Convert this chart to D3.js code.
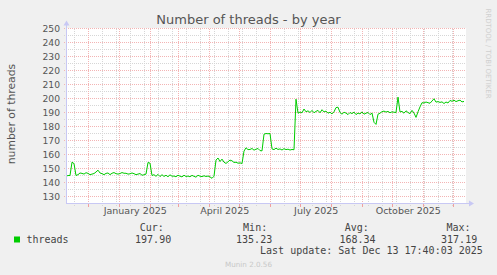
<!DOCTYPE html>
<html>
<head>
<meta charset="utf-8">
<script src="https://cdn.jsdelivr.net/npm/d3@7"></script>
<style>
  body { margin: 0; background: #f0f0f0; }
  svg { display: block; }
</style>
</head>
<body>
<script>
// time window shown (400 days ending at last update)
var startDate = new Date(Date.UTC(2024, 10, 8, 17, 40, 3)),
    endDate = new Date(Date.UTC(2025, 11, 13, 17, 40, 3));

// one reading every 2 days, starting at startDate
var stepDays = 2;
var threads = [
  144.5, 145, 145, 154.5, 153.5, 145, 145.6, 146.8, 146.5, 146,
  147, 146.5, 145.6, 146, 146.4, 147.5, 148.8, 146.8, 146.3, 145.6,
  146.5, 146.8, 145.6, 146.6, 147.1, 146.3, 146, 146.4, 147.1, 146.6,
  146.6, 146, 146.2, 146.8, 146.3, 145.6, 146, 146.4, 145.2, 145.5,
  146, 154.3, 153.8, 145, 145.6, 144.4, 145.8, 144.2, 145.6, 144.3,
  145.2, 144.1, 145.5, 144.5, 144.6, 144.1, 145.2, 144.5, 144, 145.2,
  144.3, 144.6, 144.1, 145.1, 144.4, 143.8, 145.2, 144.5, 144.2, 144.8,
  144.3, 144.6, 144, 143, 144.5, 156, 157.5, 155, 156.7, 154.5,
  153.6, 154.8, 156, 155.5, 154.3, 154.5, 153.8, 154, 153.6, 162.4,
  164.8, 163.5, 163.6, 164.3, 163.1, 163.8, 164.3, 162.8, 162.6, 174.5,
  175, 174.8, 175, 164, 163.5, 164.5, 163.6, 164, 163.2, 164.2,
  163.5, 163.8, 163.2, 163.6, 163.4, 199.5, 189.5, 190.3, 189.8, 192.5,
  190.5, 191.2, 190, 191.5, 189.8, 190.8, 191.5, 189.8, 192, 190.4,
  191, 189.5, 190.2, 189, 190.5, 193.5, 193.8, 190, 188.8, 190.2,
  189.6, 188.5, 190, 189.2, 190.3, 188.5, 189.6, 189, 190.4, 188.8,
  189.5, 190, 188.5, 189.6, 183, 181.5, 188.8, 189.5, 190.6, 191,
  190.3, 190.8, 189.8, 190.5, 190.2, 190, 201, 190.4, 190.8, 189.5,
  191.2, 190, 189.2, 191.5, 189.6, 186.5, 190.5, 194, 197, 196.8,
  197.5, 197, 196.6, 198.2, 199.8, 197.4, 197.8, 197.2, 197.6, 196.4,
  197.5, 196.8, 198.6, 198, 198.8, 197.8, 198.4, 198.8, 197.6, 197.9
];

var yLabels = [130, 140, 150, 160, 170, 180, 190, 200, 210, 220, 230, 240, 250];
var statNames = ["Cur:", "Min:", "Avg:", "Max:"];
var statValues = ["197.90", "135.23", "168.34", "317.19"];

var width = 497, height = 275;
var margin = {left: 66, right: 31, top: 28.5, bottom: 71.5};

var svg = d3.select("body").append("svg")
    .attr("width", width)
    .attr("height", height);

var x = d3.scaleUtc()
    .domain([startDate, endDate])
    .range([margin.left, width - margin.right]);

var y = d3.scaleLinear()
    .domain([125, 250])
    .range([height - margin.bottom, margin.top]);

var x0 = x.range()[0], x1 = x.range()[1],
    yb = y(125), yt = y(250);

//Plot background
svg.append("rect")
    .attr("x", x0).attr("y", yt - 0.5)
    .attr("width", x1 - x0).attr("height", yb - yt + 0.5)
    .attr("fill", "#fff");

var grid = svg.append("g").attr("shape-rendering", "crispEdges");
var minorColor = "#d6d6d6", majorColor = "#f3b4b4";

//Horizontal grid (minor every 5, major every 10)
var hMinor = d3.range(135, 250, 10);
grid.selectAll(".hmin").data(hMinor).enter().append("line")
    .attr("x1", x0 - 2).attr("x2", x1)
    .attr("y1", function(d) { return y(d); })
    .attr("y2", function(d) { return y(d); })
    .attr("stroke", minorColor).attr("stroke-dasharray", "1,1");

grid.selectAll(".hmaj").data(yLabels).enter().append("line")
    .attr("x1", x0 - 2).attr("x2", x1)
    .attr("y1", function(d) { return y(d); })
    .attr("y2", function(d) { return y(d); })
    .attr("stroke", majorColor).attr("stroke-dasharray", "1,1");

//Vertical grid: minor every 2 weeks, major at month starts
var vMinor = d3.utcSunday.range(new Date(Date.UTC(2024, 10, 17)), endDate, 2);
var vMajor = d3.utcMonth.range(startDate, endDate);

grid.selectAll(".vmin").data(vMinor).enter().append("line")
    .attr("x1", function(d) { return Math.round(x(d)) + 0.5; })
    .attr("x2", function(d) { return Math.round(x(d)) + 0.5; })
    .attr("y1", yt).attr("y2", yb + 2)
    .attr("stroke", minorColor).attr("stroke-dasharray", "1,1");

grid.selectAll(".vmaj").data(vMajor).enter().append("line")
    .attr("x1", function(d) { return Math.round(x(d)) + 0.5; })
    .attr("x2", function(d) { return Math.round(x(d)) + 0.5; })
    .attr("y1", yt).attr("y2", yb)
    .attr("stroke", majorColor).attr("stroke-dasharray", "1,1");

grid.selectAll(".vtick").data(vMajor).enter().append("line")
    .attr("x1", function(d) { return Math.round(x(d)) + 0.5; })
    .attr("x2", function(d) { return Math.round(x(d)) + 0.5; })
    .attr("y1", yb).attr("y2", yb + 3)
    .attr("stroke", "#f0a0a0");

//Data line
var line = d3.line()
    .x(function(d, i) { return x(d3.utcDay.offset(startDate, i * stepDays)); })
    .y(function(d) { return y(d); });

svg.append("path")
    .datum(threads)
    .attr("fill", "none")
    .attr("stroke", "#00cc00")
    .attr("stroke-width", 1)
    .attr("d", line);

//Axes lines with arrows
var axisColor = "#c8c8f4";
svg.append("line")
    .attr("x1", x0).attr("x2", x1 + 3)
    .attr("y1", yb).attr("y2", yb)
    .attr("stroke", axisColor).attr("shape-rendering", "crispEdges");
svg.append("line")
    .attr("x1", x0 + 0.5).attr("x2", x0 + 0.5)
    .attr("y1", yb).attr("y2", yt - 4)
    .attr("stroke", axisColor).attr("shape-rendering", "crispEdges");
svg.append("path")
    .attr("d", "M" + (x1 + 8) + "," + yb + "L" + (x1 + 3) + "," + (yb - 3) + "L" + (x1 + 3) + "," + (yb + 3) + "Z")
    .attr("fill", axisColor);
svg.append("path")
    .attr("d", "M" + (x0 + 0.5) + "," + (yt - 8) + "L" + (x0 - 2.5) + "," + (yt - 3) + "L" + (x0 + 3.5) + "," + (yt - 3) + "Z")
    .attr("fill", axisColor);

//Y axis labels
var yAxis = svg.append("g")
    .attr("transform", "translate(" + x0 + ",0)")
    .call(d3.axisLeft(y).tickValues(yLabels).tickSize(0).tickPadding(6));
yAxis.select(".domain").remove();
yAxis.selectAll("text")
    .attr("fill", "#555")
    .style("font-family", "DejaVu Sans")
    .style("font-size", "9.2px");

//X axis labels centred on the middle of each quarter's first month
var labelMonths = vMajor.filter(function(d) { return d.getUTCMonth() % 3 === 0; });
var labelDates = labelMonths.map(function(d) {
    return new Date((+d + +d3.utcMonth.offset(d, 1)) / 2);
});
var xAxis = svg.append("g")
    .attr("transform", "translate(0," + yb + ")")
    .call(d3.axisBottom(x).tickValues(labelDates).tickSize(0).tickPadding(4)
        .tickFormat(d3.utcFormat("%B %Y")));
xAxis.select(".domain").remove();
xAxis.selectAll("text")
    .attr("fill", "#555")
    .style("font-family", "DejaVu Sans")
    .style("font-size", "9.5px");

//Title
svg.append("text")
    .attr("x", 248.5).attr("y", 24)
    .attr("text-anchor", "middle")
    .attr("fill", "#555")
    .style("font-family", "DejaVu Sans")
    .style("font-size", "13px")
    .text("Number of threads - by year");

//Y axis title
svg.append("text")
    .attr("transform", "translate(15,114) rotate(-90)")
    .attr("text-anchor", "middle")
    .attr("fill", "#555")
    .style("font-family", "DejaVu Sans")
    .style("font-size", "10.8px")
    .text("number of threads");

//Side credit
svg.append("text")
    .attr("transform", "translate(486,53.5) rotate(90)")
    .attr("text-anchor", "middle")
    .attr("fill", "#cfcfcf")
    .style("font-family", "DejaVu Sans")
    .style("font-size", "7px")
    .text("RRDTOOL / TOBI OETIKER");

//Legend
var mono = {family: "DejaVu Sans Mono", size: "10px", color: "#444"};
svg.append("rect")
    .attr("x", 14).attr("y", 236.5)
    .attr("width", 6).attr("height", 6)
    .attr("fill", "#00cc00");
svg.append("text")
    .attr("x", 26.5).attr("y", 242.7)
    .attr("fill", mono.color)
    .style("font-family", mono.family).style("font-size", mono.size)
    .text("threads");

var nameEnds = [163.8, 267.2, 368.8, 470.5];
var valueEnds = [171.2, 272.2, 375.5, 477.2];

svg.selectAll(".statname").data(statNames).enter().append("text")
    .attr("x", function(d, i) { return nameEnds[i]; })
    .attr("y", 230.7)
    .attr("text-anchor", "end")
    .attr("fill", mono.color)
    .style("font-family", mono.family).style("font-size", mono.size)
    .text(function(d) { return d; });

svg.selectAll(".statval").data(statValues).enter().append("text")
    .attr("x", function(d, i) { return valueEnds[i]; })
    .attr("y", 242.7)
    .attr("text-anchor", "end")
    .attr("fill", mono.color)
    .style("font-family", mono.family).style("font-size", mono.size)
    .text(function(d) { return d; });

svg.append("text")
    .attr("x", 482.8).attr("y", 254)
    .attr("text-anchor", "end")
    .attr("fill", mono.color)
    .style("font-family", mono.family).style("font-size", mono.size)
    .text("Last update: Sat Dec 13 17:40:03 2025");

svg.append("text")
    .attr("x", 248.5).attr("y", 266.5)
    .attr("text-anchor", "middle")
    .attr("fill", "#c8c8c8")
    .style("font-family", "DejaVu Sans")
    .style("font-size", "7.2px")
    .text("Munin 2.0.56");
</script>
</body>
</html>
